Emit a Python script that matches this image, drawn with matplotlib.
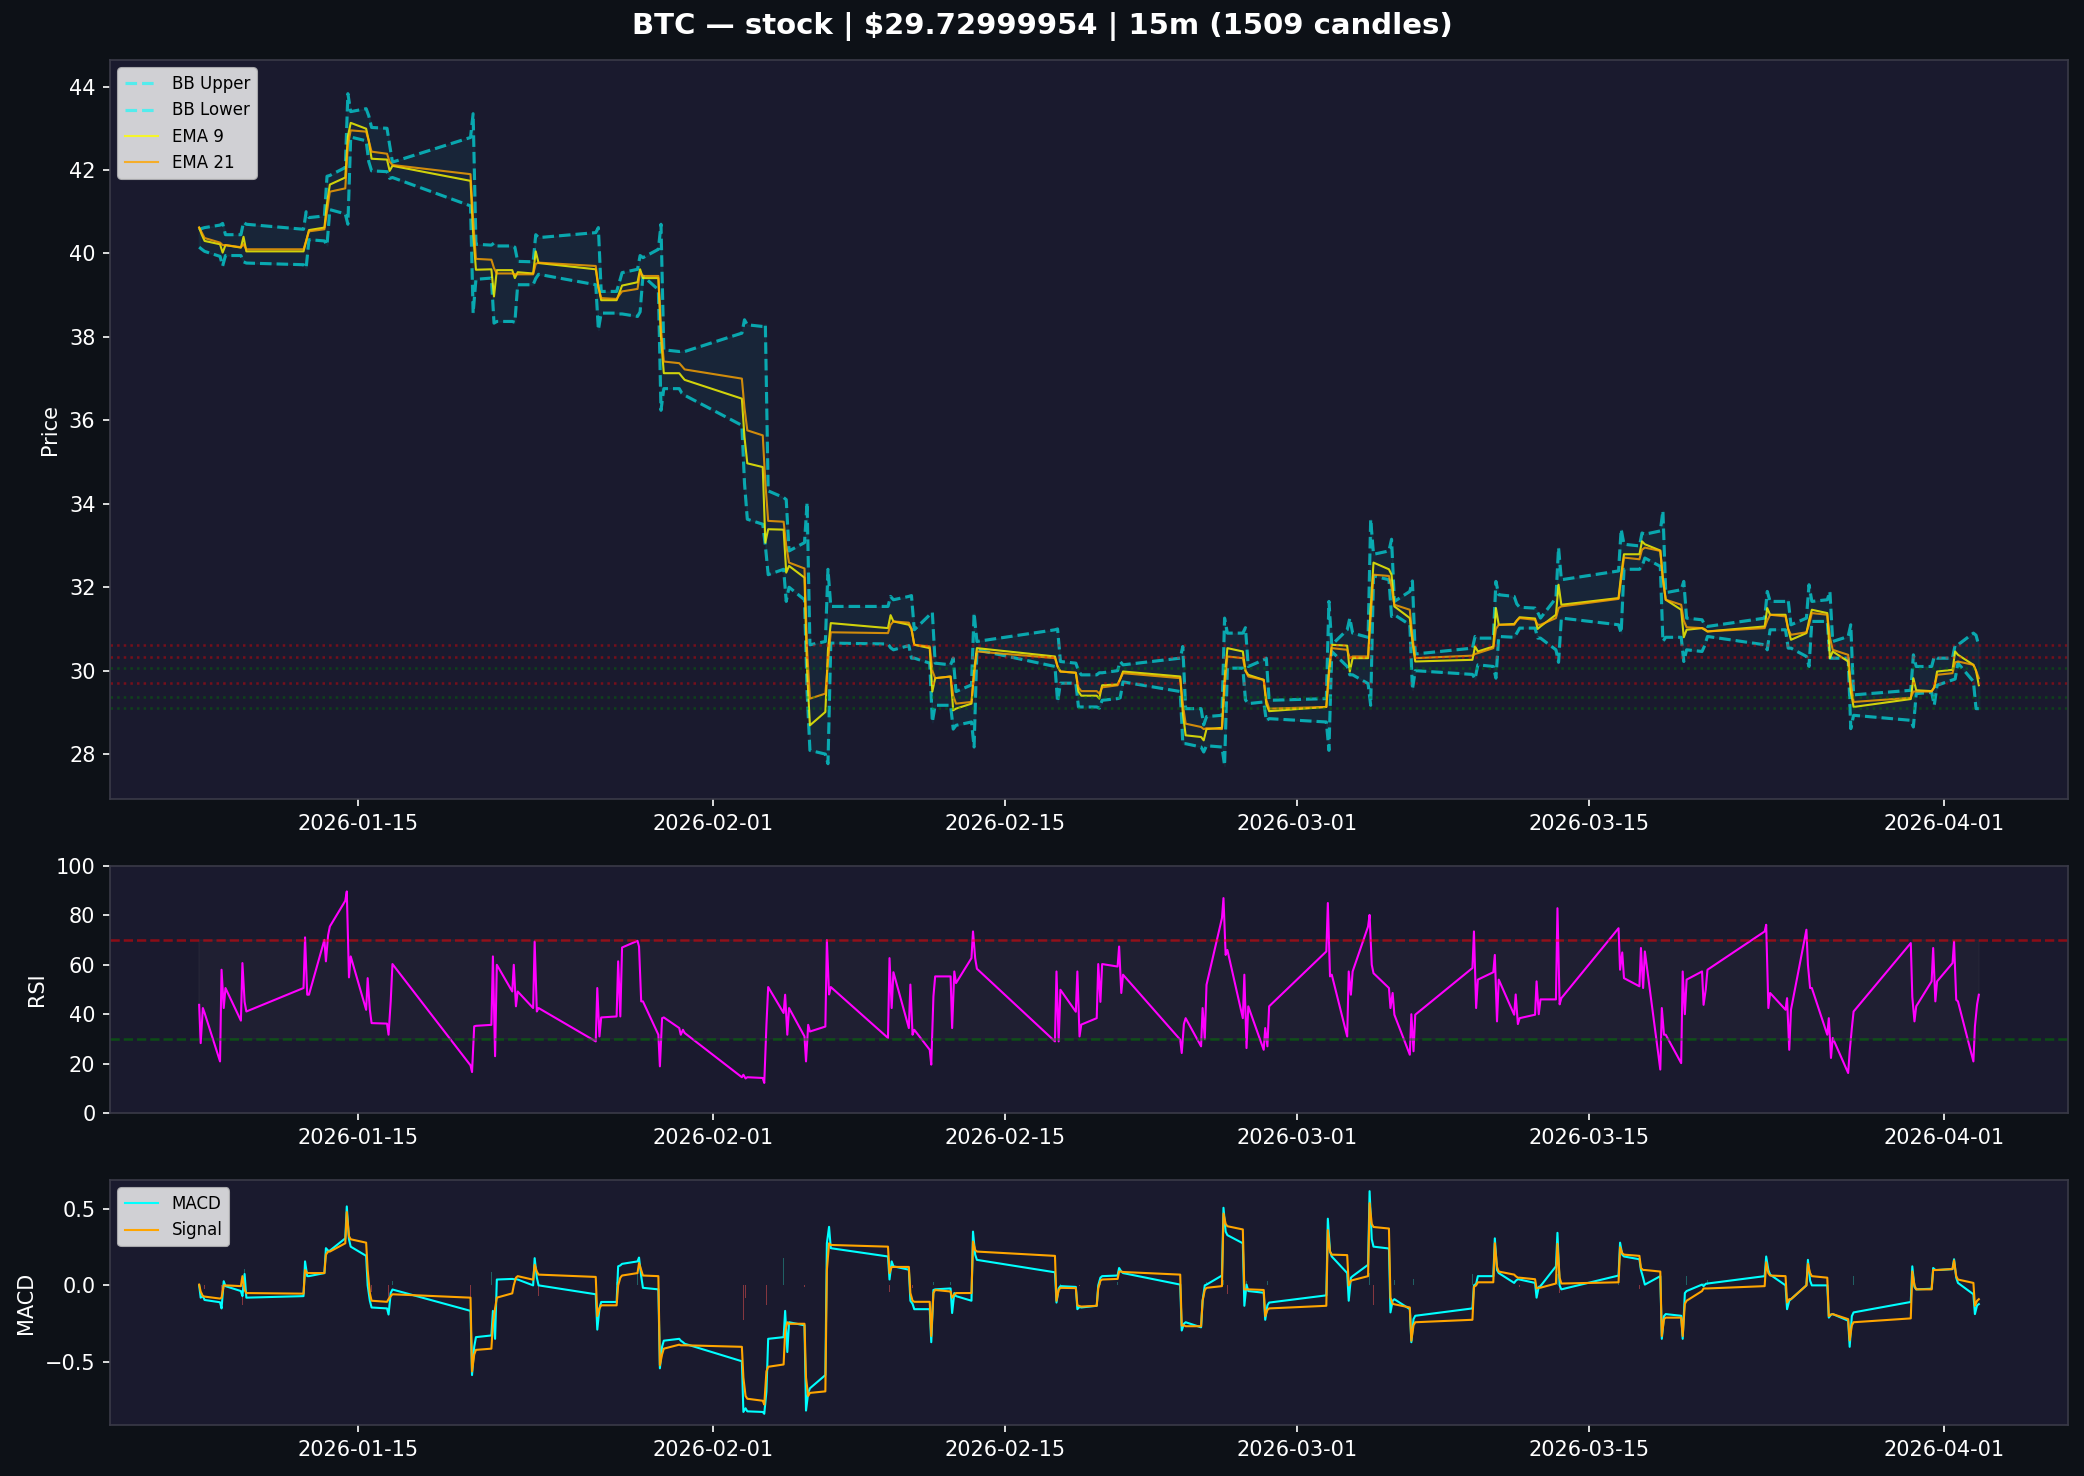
import matplotlib
matplotlib.use('Agg')
import matplotlib.pyplot as plt
import matplotlib.dates as mdates
import numpy as np
import pandas as pd

# trading sessions shown on the chart
days = ["2026-01-07", "2026-01-08", "2026-01-09",
        "2026-01-12", "2026-01-13", "2026-01-14", "2026-01-15", "2026-01-16",
        "2026-01-20", "2026-01-21", "2026-01-22", "2026-01-23",
        "2026-01-26", "2026-01-27", "2026-01-28", "2026-01-29", "2026-01-30",
        "2026-02-02", "2026-02-03", "2026-02-04", "2026-02-05", "2026-02-06",
        "2026-02-09", "2026-02-10", "2026-02-11", "2026-02-12", "2026-02-13",
        "2026-02-17", "2026-02-18", "2026-02-19", "2026-02-20",
        "2026-02-23", "2026-02-24", "2026-02-25", "2026-02-26", "2026-02-27",
        "2026-03-02", "2026-03-03", "2026-03-04", "2026-03-05", "2026-03-06",
        "2026-03-09", "2026-03-10", "2026-03-11", "2026-03-12", "2026-03-13",
        "2026-03-16", "2026-03-17", "2026-03-18", "2026-03-19", "2026-03-20",
        "2026-03-23", "2026-03-24", "2026-03-25", "2026-03-26", "2026-03-27",
        "2026-03-30", "2026-03-31", "2026-04-01", "2026-04-02"]

# price panel: (open, midday, close) of each session
ema9 = [
    (40.62, 40.45, 40.30), (40.22, 40.02, 40.20), (40.14, 40.40, 40.05),
    (40.05, 40.30, 40.56), (40.62, 41.20, 41.65), (41.82, 42.80, 43.13), (42.99, 42.70, 42.27), (42.25, 41.98, 42.10),
    (41.74, 40.50, 39.61), (39.62, 38.97, 39.60), (39.60, 39.41, 39.55), (39.52, 40.05, 39.77),
    (39.62, 39.20, 38.88), (38.88, 39.05, 39.23), (39.31, 39.62, 39.41), (39.41, 38.00, 37.13), (37.13, 37.05, 36.97),
    (36.52, 35.60, 34.97), (34.88, 33.07, 33.39), (33.38, 32.35, 32.51), (32.23, 30.00, 28.69), (29.01, 30.50, 31.14),
    (31.02, 31.33, 31.18), (31.10, 31.00, 30.62), (30.54, 29.50, 29.82), (29.86, 29.05, 29.09), (29.21, 30.00, 30.54),
    (30.34, 30.10, 29.98), (29.95, 29.50, 29.40), (29.40, 29.33, 29.65), (29.67, 29.80, 29.98),
    (29.86, 29.00, 28.45), (28.41, 28.33, 28.60), (28.63, 29.80, 30.54), (30.46, 30.00, 29.90), (29.78, 29.20, 29.03),
    (29.13, 30.00, 30.62), (30.60, 29.98, 30.30), (30.30, 31.50, 32.59), (32.43, 32.30, 31.54), (31.26, 30.70, 30.22),
    (30.26, 30.58, 30.46), (30.58, 31.50, 31.10), (31.12, 31.20, 31.28), (31.25, 31.00, 31.06), (31.34, 32.06, 31.58),
    (31.74, 32.30, 32.79), (32.79, 33.10, 33.03), (32.88, 32.20, 31.70), (31.46, 30.80, 30.98), (31.02, 30.98, 30.94),
    (31.06, 31.50, 31.34), (31.34, 31.00, 30.74), (30.90, 31.20, 31.46), (31.38, 30.30, 30.46), (30.22, 29.50, 29.13),
    (29.32, 29.82, 29.53), (29.51, 29.60, 29.98), (30.02, 30.46, 30.38), (30.14, 30.00, 29.65),
]
ema21 = [
    (40.62, 40.50, 40.37), (40.26, 40.20, 40.20), (40.15, 40.22, 40.10),
    (40.10, 40.30, 40.53), (40.58, 41.00, 41.48), (41.56, 42.60, 42.95), (42.92, 42.70, 42.44), (42.39, 42.20, 42.12),
    (41.90, 40.80, 39.87), (39.85, 39.65, 39.52), (39.52, 39.50, 39.50), (39.50, 39.75, 39.78),
    (39.70, 39.20, 38.93), (38.91, 39.00, 39.09), (39.15, 39.54, 39.46), (39.46, 38.20, 37.41), (37.37, 37.30, 37.22),
    (37.00, 36.30, 35.76), (35.64, 34.50, 33.59), (33.57, 33.00, 32.59), (32.45, 30.50, 29.33), (29.45, 30.20, 30.92),
    (30.90, 31.10, 31.18), (31.15, 31.00, 30.62), (30.58, 30.00, 29.82), (29.86, 29.40, 29.21), (29.25, 29.90, 30.46),
    (30.30, 30.10, 29.98), (29.95, 29.60, 29.51), (29.51, 29.45, 29.60), (29.65, 29.80, 29.94),
    (29.82, 29.20, 28.73), (28.65, 28.60, 28.62), (28.60, 29.60, 30.34), (30.30, 30.00, 29.86), (29.78, 29.30, 29.09),
    (29.13, 29.90, 30.54), (30.50, 30.30, 30.34), (30.34, 31.30, 32.30), (32.27, 32.00, 31.58), (31.46, 30.80, 30.30),
    (30.36, 30.40, 30.42), (30.54, 31.00, 31.10), (31.10, 31.20, 31.26), (31.22, 31.10, 31.10), (31.26, 31.50, 31.54),
    (31.72, 32.20, 32.71), (32.67, 32.90, 32.95), (32.87, 32.20, 31.70), (31.58, 31.20, 31.04), (31.02, 31.00, 30.94),
    (31.02, 31.20, 31.34), (31.30, 31.00, 30.86), (30.92, 31.10, 31.38), (31.34, 30.80, 30.50), (30.38, 29.70, 29.25),
    (29.35, 29.50, 29.50), (29.50, 29.60, 29.90), (29.94, 30.20, 30.22), (30.14, 30.00, 29.82),
]
bb_upper = [
    (40.55, 40.60, 40.62), (40.68, 40.72, 40.45), (40.45, 40.75, 40.70),
    (40.58, 41.00, 40.86), (40.90, 41.85, 41.87), (42.06, 43.83, 43.40), (43.47, 43.30, 43.02), (43.00, 42.60, 42.19),
    (42.78, 43.35, 40.22), (40.20, 40.25, 40.18), (40.18, 40.15, 39.81), (39.80, 40.45, 40.38),
    (40.50, 40.62, 39.09), (39.09, 39.30, 39.54), (39.62, 39.95, 39.90), (40.10, 40.70, 37.69), (37.65, 37.66, 37.65),
    (38.09, 38.41, 38.29), (38.25, 38.30, 34.31), (34.15, 34.10, 32.87), (33.07, 34.03, 30.62), (30.70, 32.43, 31.54),
    (31.54, 31.78, 31.70), (31.78, 31.80, 30.98), (31.34, 31.40, 30.18), (30.14, 30.30, 29.50), (29.66, 31.38, 30.70),
    (30.98, 31.00, 30.22), (30.18, 30.00, 29.90), (29.90, 29.95, 29.95), (30.00, 30.22, 30.14),
    (30.30, 30.58, 29.09), (29.09, 28.70, 28.90), (28.93, 31.26, 30.90), (30.90, 31.03, 30.10), (30.26, 30.30, 29.29),
    (29.33, 31.66, 30.62), (30.98, 31.26, 30.90), (30.80, 33.63, 32.79), (32.87, 33.15, 31.66), (31.90, 32.15, 30.40),
    (30.54, 30.82, 30.78), (30.78, 32.14, 31.82), (31.78, 31.60, 31.52), (31.50, 31.40, 31.26), (31.74, 32.95, 32.18),
    (32.39, 33.39, 33.03), (32.99, 33.30, 33.27), (33.35, 33.83, 31.87), (31.94, 32.14, 31.26), (31.22, 31.10, 31.06),
    (31.26, 31.90, 31.66), (31.66, 31.70, 31.10), (31.26, 32.06, 31.66), (31.70, 31.90, 30.70), (30.82, 31.10, 29.42),
    (29.53, 30.38, 30.10), (30.10, 30.34, 30.30), (30.30, 30.62, 30.62), (30.90, 30.85, 30.60),
]
bb_lower = [
    (40.15, 40.10, 40.05), (39.93, 39.70, 39.95), (39.95, 39.80, 39.77),
    (39.73, 39.65, 40.33), (40.30, 40.20, 41.05), (40.95, 40.70, 42.79), (42.70, 42.20, 41.98), (41.96, 41.80, 41.82),
    (41.14, 38.57, 39.38), (39.41, 38.33, 38.37), (38.37, 38.35, 39.25), (39.25, 39.40, 39.50),
    (39.25, 38.17, 38.57), (38.57, 38.55, 38.55), (38.49, 38.60, 39.46), (39.13, 36.24, 36.76), (36.76, 36.65, 36.60),
    (35.88, 34.50, 33.63), (33.51, 33.00, 32.30), (32.43, 31.66, 32.00), (31.70, 29.50, 28.09), (28.00, 27.77, 30.66),
    (30.64, 30.55, 30.50), (30.60, 30.30, 30.30), (30.18, 28.77, 29.17), (29.17, 28.60, 28.69), (28.77, 28.17, 30.50),
    (30.10, 29.25, 29.70), (29.70, 29.13, 29.13), (29.13, 29.10, 29.29), (29.33, 29.35, 29.73),
    (29.50, 28.25, 28.25), (28.17, 28.05, 28.20), (28.17, 27.73, 30.06), (30.06, 29.30, 29.21), (29.25, 28.80, 28.85),
    (28.77, 28.09, 30.46), (30.10, 29.90, 29.90), (29.69, 29.17, 32.27), (32.18, 31.30, 31.34), (31.10, 29.55, 30.00),
    (29.91, 29.80, 30.14), (30.10, 29.82, 30.82), (30.80, 30.90, 31.02), (31.02, 30.78, 30.78), (30.50, 30.20, 31.26),
    (31.10, 30.90, 32.43), (32.43, 32.50, 32.70), (32.50, 30.70, 30.80), (30.80, 30.22, 30.50), (30.46, 30.60, 30.82),
    (30.62, 30.50, 30.98), (30.98, 30.54, 30.54), (30.34, 30.10, 31.18), (31.18, 30.30, 30.30), (30.30, 28.61, 28.93),
    (28.81, 28.65, 29.45), (29.48, 29.17, 29.65), (29.78, 29.80, 30.18), (29.74, 29.09, 29.09),
]
support = [30.06, 29.38, 29.10]
resistance = [30.62, 30.33, 29.70]

# oscillators: four readings per session
rsi = [
    (43.8, 28.3, 42.5, 40.5), (20.9, 58.0, 42.5, 50.6), (37.4, 60.7, 45.0, 41.1),
    (50.6, 71.1, 47.9, 47.9), (70.1, 61.4, 71.9, 75.5), (85.9, 89.7, 54.9, 63.4), (41.8, 54.6, 41.8, 36.4), (36.2, 31.7, 45.2, 60.3),
    (19.3, 16.6, 35.1, 35.3), (35.7, 63.4, 23.0, 60.0), (49.2, 60.0, 43.2, 49.2), (42.5, 69.4, 41.1, 42.5),
    (29.0, 50.6, 31.0, 38.7), (39.1, 61.4, 39.1, 67.0), (69.7, 67.4, 45.2, 45.2), (31.7, 18.9, 38.4, 38.7), (34.4, 31.7, 33.7, 32.4),
    (14.5, 15.5, 14.0, 14.5), (14.2, 12.2, 35.7, 51.0), (40.5, 47.9, 31.7, 42.5), (31.0, 20.9, 35.7, 33.0), (35.0, 70.0, 48.0, 51.0),
    (30.4, 62.7, 42.5, 57.0), (34.4, 52.0, 31.7, 33.7), (25.6, 19.6, 47.2, 55.3), (55.3, 34.4, 57.3, 52.6), (62.7, 73.5, 62.7, 58.4),
    (29.0, 57.3, 29.0, 49.9), (41.0, 57.3, 31.0, 35.8), (38.4, 60.3, 45.0, 60.3), (59.3, 67.4, 48.6, 56.0),
    (29.7, 24.3, 36.0, 38.4), (27.0, 42.5, 30.0, 51.9), (78.9, 87.0, 64.0, 66.0), (38.4, 56.0, 26.3, 43.2), (25.6, 34.4, 27.0, 43.2),
    (65.4, 85.0, 55.3, 56.0), (31.0, 57.3, 47.9, 57.3), (75.5, 80.2, 60.0, 56.6), (50.6, 42.5, 48.6, 39.8), (23.6, 40.0, 25.0, 39.8),
    (58.7, 73.5, 42.5, 54.0), (57.0, 64.0, 37.1, 54.0), (39.8, 48.0, 36.0, 38.4), (39.8, 53.3, 40.0, 46.0), (46.0, 82.9, 44.0, 46.5),
    (74.8, 58.0, 65.0, 54.6), (51.3, 66.8, 50.6, 65.4), (17.6, 42.5, 31.7, 31.7), (20.2, 57.3, 40.0, 54.0), (57.3, 43.8, 50.0, 58.0),
    (73.5, 76.2, 42.5, 48.6), (41.8, 46.5, 25.6, 41.8), (74.2, 60.0, 50.6, 50.6), (31.7, 38.4, 22.3, 30.4), (16.2, 25.0, 34.4, 41.1),
    (68.8, 47.0, 37.1, 43.2), (53.3, 66.8, 45.2, 53.3), (60.7, 69.4, 45.8, 45.2), (20.9, 35.0, 44.0, 47.9),
]
macd = [
    (0.000, -0.080, -0.070, -0.095), (-0.110, -0.150, 0.027, -0.005), (-0.037, -0.070, 0.074, -0.080),
    (-0.070, 0.156, 0.060, 0.060), (0.080, 0.242, 0.226, 0.226), (0.306, 0.514, 0.300, 0.252), (0.192, 0.000, -0.100, -0.144), (-0.150, -0.190, -0.050, -0.027),
    (-0.166, -0.584, -0.400, -0.337), (-0.326, -0.166, -0.348, 0.038), (0.042, 0.040, 0.040, 0.038), (0.000, 0.177, 0.050, 0.000),
    (-0.058, -0.288, -0.150, -0.108), (-0.108, 0.124, 0.130, 0.140), (0.156, 0.181, 0.060, -0.016), (-0.026, -0.540, -0.400, -0.360), (-0.348, -0.360, -0.370, -0.380),
    (-0.494, -0.824, -0.800, -0.820), (-0.824, -0.836, -0.690, -0.348), (-0.337, -0.166, -0.434, -0.240), (-0.260, -0.815, -0.700, -0.670), (-0.584, 0.274, 0.381, 0.242),
    (0.188, 0.038, 0.156, 0.124), (0.102, -0.100, -0.120, -0.155), (-0.155, -0.370, -0.030, -0.026), (-0.020, -0.180, -0.050, -0.070), (-0.100, 0.350, 0.200, 0.166),
    (0.085, -0.112, -0.020, -0.005), (-0.010, -0.155, -0.140, -0.144), (-0.133, 0.000, 0.050, 0.060), (0.064, 0.113, 0.090, 0.080),
    (0.005, -0.294, -0.250, -0.240), (-0.273, -0.100, 0.000, 0.005), (0.064, 0.505, 0.350, 0.327), (0.274, -0.133, 0.005, -0.037), (-0.048, -0.224, -0.130, -0.112),
    (-0.065, 0.434, 0.220, 0.188), (0.080, -0.100, 0.050, 0.060), (0.134, 0.613, 0.300, 0.252), (0.240, -0.176, -0.100, -0.090), (-0.155, -0.370, -0.220, -0.198),
    (-0.150, 0.000, 0.010, 0.060), (0.060, 0.306, 0.100, 0.080), (0.016, 0.030, 0.040, 0.038), (0.016, -0.080, -0.010, -0.005), (0.124, 0.342, 0.000, -0.026),
    (0.064, 0.278, 0.200, 0.188), (0.170, 0.100, 0.050, 0.005), (0.060, -0.348, -0.200, -0.187), (-0.198, -0.348, -0.050, -0.037), (0.005, -0.005, 0.010, 0.012),
    (0.060, 0.188, 0.100, 0.070), (0.000, -0.155, -0.100, -0.090), (0.000, 0.166, 0.030, 0.000), (0.000, -0.210, -0.190, -0.187), (-0.230, -0.400, -0.200, -0.176),
    (-0.108, 0.124, -0.010, -0.026), (-0.022, 0.113, 0.100, 0.100), (0.106, 0.170, 0.050, 0.016), (-0.058, -0.187, -0.130, -0.122),
]
signal = [
    (0.005, -0.040, -0.070, -0.073), (-0.086, -0.080, 0.000, 0.000), (-0.005, 0.060, -0.030, -0.050),
    (-0.054, 0.100, 0.080, 0.080), (0.080, 0.200, 0.220, 0.220), (0.274, 0.477, 0.320, 0.300), (0.278, 0.100, -0.050, -0.100), (-0.107, -0.090, -0.070, -0.058),
    (-0.080, -0.560, -0.450, -0.420), (-0.412, -0.250, -0.150, -0.080), (-0.052, 0.000, 0.050, 0.060), (0.037, 0.134, 0.090, 0.070),
    (0.055, -0.200, -0.150, -0.130), (-0.130, 0.000, 0.050, 0.064), (0.080, 0.145, 0.100, 0.064), (0.060, -0.520, -0.450, -0.412), (-0.386, -0.390, -0.390, -0.390),
    (-0.400, -0.600, -0.720, -0.738), (-0.751, -0.776, -0.560, -0.530), (-0.515, -0.300, -0.240, -0.250), (-0.250, -0.600, -0.720, -0.700), (-0.690, 0.100, 0.274, 0.263),
    (0.252, 0.080, 0.120, 0.120), (0.120, -0.050, -0.100, -0.107), (-0.107, -0.330, -0.050, -0.030), (-0.040, -0.080, -0.060, -0.050), (-0.050, 0.285, 0.230, 0.220),
    (0.192, -0.100, -0.030, -0.016), (-0.018, -0.130, -0.135, -0.138), (-0.133, -0.020, 0.030, 0.038), (0.042, 0.090, 0.090, 0.087),
    (0.070, -0.262, -0.260, -0.266), (-0.266, -0.100, -0.030, -0.016), (-0.005, 0.467, 0.400, 0.385), (0.364, -0.026, -0.026, -0.026), (-0.030, -0.200, -0.160, -0.150),
    (-0.133, 0.360, 0.220, 0.200), (0.197, 0.000, 0.030, 0.034), (0.060, 0.535, 0.400, 0.380), (0.370, -0.080, -0.120, -0.123), (-0.144, -0.360, -0.260, -0.240),
    (-0.224, -0.010, 0.000, 0.020), (0.020, 0.274, 0.120, 0.090), (0.070, 0.060, 0.050, 0.050), (0.040, -0.020, -0.015, -0.015), (0.012, 0.270, 0.050, 0.012),
    (0.020, 0.248, 0.210, 0.200), (0.192, 0.113, 0.100, 0.100), (0.090, -0.330, -0.220, -0.210), (-0.210, -0.330, -0.120, -0.100), (-0.037, -0.020, -0.020, -0.020),
    (-0.005, 0.150, 0.080, 0.064), (0.060, -0.112, -0.090, -0.090), (0.000, 0.140, 0.080, 0.060), (0.050, -0.200, -0.190, -0.187), (-0.220, -0.358, -0.260, -0.240),
    (-0.215, 0.090, 0.000, -0.026), (-0.026, 0.100, 0.100, 0.100), (0.106, 0.162, 0.060, 0.038), (0.016, -0.133, -0.100, -0.090),
]


def session_times(hours):
    out = []
    for d in days:
        base = pd.Timestamp(d)
        for h in hours:
            out.append(base + pd.Timedelta(hours=h))
    return pd.DatetimeIndex(out)


t3 = session_times([9.5, 12.5, 15.75])
t4 = session_times([9.5, 11.25, 13.75, 15.75])


def flat(rows):
    return np.array(rows, dtype=float).ravel()


bg = '#1a1a2e'
fig = plt.figure(figsize=(2084 / 150, 1476 / 150), dpi=150, facecolor='#0d1117')
left, width = 0.0528, 0.9395
ax1 = fig.add_axes([left, 0.4587, width, 0.5006])
ax2 = fig.add_axes([left, 0.2459, width, 0.1674], sharex=ax1)
ax3 = fig.add_axes([left, 0.0346, width, 0.1659], sharex=ax1)

up = flat(bb_upper)
lo = flat(bb_lower)
ax1.plot(t3, up, color='cyan', ls='--', lw=1.5, alpha=0.6, label='BB Upper')
ax1.plot(t3, lo, color='cyan', ls='--', lw=1.5, alpha=0.6, label='BB Lower')
ax1.fill_between(t3, lo, up, color='cyan', alpha=0.05)
ax1.plot(t3, flat(ema9), color='yellow', lw=1, alpha=0.8, label='EMA 9')
ax1.plot(t3, flat(ema21), color='orange', lw=1, alpha=0.8, label='EMA 21')
for lvl in resistance:
    ax1.axhline(lvl, color='red', ls=':', lw=1.2, alpha=0.4)
for lvl in support:
    ax1.axhline(lvl, color='green', ls=':', lw=1.2, alpha=0.4)
ax1.set_ylabel('Price', color='white')
ax1.legend(loc='upper left', fontsize=8)

r = flat(rsi)
ax2.plot(t4, r, color='magenta', lw=1)
ax2.axhline(70, color='red', ls='--', lw=1.2, alpha=0.5)
ax2.axhline(30, color='green', ls='--', lw=1.2, alpha=0.5)
ax2.fill_between(t4, 30, 70, color='gray', alpha=0.05)
ax2.set_ylim(0, 100)
ax2.set_yticks([0, 20, 40, 60, 80, 100])
ax2.set_ylabel('RSI', color='white')

m = flat(macd)
s = flat(signal)
hist = m - s
ax3.bar(t4, hist, width=0.012, color=np.where(hist >= 0, '#26a69a', '#ef5350'), alpha=0.5)
ax3.plot(t4, m, color='cyan', lw=1, label='MACD')
ax3.plot(t4, s, color='orange', lw=1, label='Signal')
ax3.set_ylabel('MACD', color='white')
ax3.legend(loc='upper left', fontsize=8)

for ax in (ax1, ax2, ax3):
    ax.set_facecolor(bg)
    ax.tick_params(colors='white', labelsize=10)
    for sp in ax.spines.values():
        sp.set_color('#3a3a48')
    ax.xaxis.set_major_locator(mdates.DayLocator(bymonthday=[1, 15]))
    ax.xaxis.set_major_formatter(mdates.DateFormatter('%Y-%m-%d'))
    ax.tick_params(axis='x', labelbottom=True)

fig.text(0.5, 0.982, r'BTC — stock | \$29.72999954 | 15m (1509 candles)',
         ha='center', va='center', color='white', fontsize=14, fontweight='bold')

fig.savefig('out.png', dpi=150, facecolor=fig.get_facecolor())
